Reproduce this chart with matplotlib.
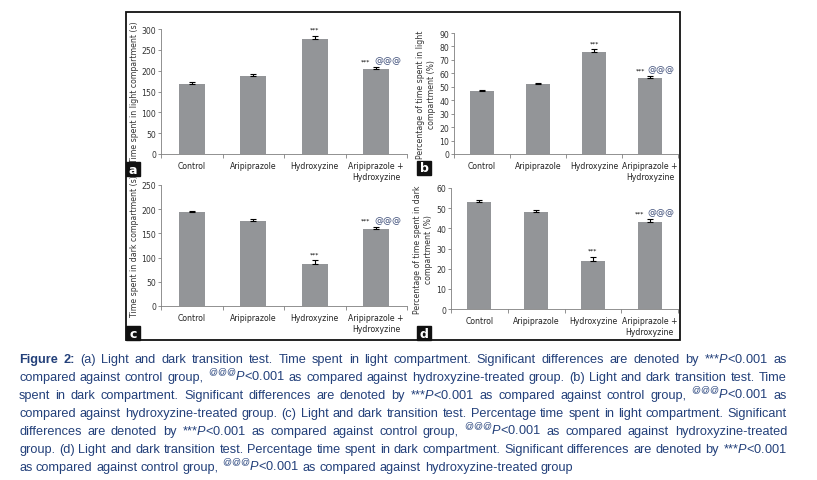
import numpy as np
import matplotlib
matplotlib.use('Agg')
import matplotlib.pyplot as plt
from matplotlib.patches import Rectangle

W, H = 817, 481

groups = ['Control', 'Aripiprazole', 'Hydroxyzine', 'Aripiprazole +\nHydroxyzine']

light_time = [169, 188, 277, 205]
light_time_err = [4, 4, 7, 4]
light_pct = [47, 52, 76, 56.5]
light_pct_err = [0.7, 0.7, 2, 1.5]
dark_time = [194, 176, 87, 160]
dark_time_err = [2, 4, 8, 4]
dark_pct = [53.2, 48.3, 24, 43.3]
dark_pct_err = [1, 1, 2, 1.3]

BAR = '#939598'
AXC = '#7f7f7f'
BLUE = '#23407a'

plt.rcParams['mathtext.fontset'] = 'custom'
plt.rcParams['mathtext.rm'] = 'Liberation Sans'
plt.rcParams['mathtext.it'] = 'Liberation Sans:italic'
plt.rcParams['mathtext.bf'] = 'Liberation Sans:bold'


def px_rect(x0, x1, ytop, ybot):
    return [x0 / W, 1 - ybot / H, (x1 - x0) / W, (ybot - ytop) / H]


fig = plt.figure(figsize=(W / 100, H / 100), dpi=100)


def panel(rect, vals, errs, ymax, step, ylabel, letter, lrect):
    ax = fig.add_axes(rect)
    x = np.arange(len(groups))
    ax.bar(x, vals, width=0.42, color=BAR, zorder=2)
    ax.errorbar(x, vals, yerr=[[0] * len(vals), errs], fmt='none', ecolor='black',
                elinewidth=0.8, capsize=2.2, capthick=0.8, zorder=3)
    ax.set_xlim(-0.5, 3.5)
    ax.set_ylim(0, ymax)
    ax.set_yticks(np.arange(0, ymax + step / 2, step))
    ax.set_xticks(x)
    ax.set_xticklabels(groups, fontsize=5.6, color='#222222', linespacing=1.3)
    ax.set_xticks(np.arange(-0.5, 4, 1), minor=True)
    ax.tick_params(axis='x', which='major', length=0, pad=5)
    ax.tick_params(axis='x', which='minor', length=3, width=0.6, color=AXC, direction='out')
    ax.tick_params(axis='y', length=2.5, width=0.6, color=AXC, labelsize=5.6,
                   labelcolor='#333333', pad=1)
    for s in ['top', 'right']:
        ax.spines[s].set_visible(False)
    for s in ['left', 'bottom']:
        ax.spines[s].set_color(AXC)
        ax.spines[s].set_linewidth(0.6)
    ax.set_ylabel(ylabel, fontsize=5.6, color='#333333', labelpad=2, linespacing=1.3)

    # significance marks
    off = ymax * 0.03
    ax.text(2, vals[2] + errs[2] + off, '***', ha='center', va='bottom', fontsize=4.5)
    ax.text(3 - 0.17, vals[3] + errs[3] + off, '***', ha='center', va='bottom', fontsize=4.5)
    ax.text(3 + 0.19, vals[3] + errs[3] + off * 0.8, '@@@', ha='center', va='bottom',
            fontsize=6.5, color='#3f4f7a')

    # panel letter
    fig.patches.append(Rectangle((lrect[0] / W, 1 - lrect[3] / H),
                                 (lrect[1] - lrect[0]) / W, (lrect[3] - lrect[2]) / H,
                                 color='#111111', transform=fig.transFigure, zorder=5))
    fig.text((lrect[0] + lrect[1]) / 2 / W, 1 - (lrect[2] + lrect[3]) / 2 / H, letter,
             color='white', fontsize=9, fontweight='bold', ha='center', va='center', zorder=6)
    return ax


panel(px_rect(161, 407, 30, 155), light_time, light_time_err, 300, 50,
      'Time spent in light compartment (s)', 'a', (126, 140, 163, 177))
panel(px_rect(454, 678, 34, 155), light_pct, light_pct_err, 90, 10,
      'Percentage of time spent in light\ncompartment (%)', 'b', (417, 431, 162, 176))
panel(px_rect(161, 407, 186, 307), dark_time, dark_time_err, 250, 50,
      'Time spent in dark compartment (s)', 'c', (126, 140, 327, 341))
panel(px_rect(451, 678, 189, 310), dark_pct, dark_pct_err, 60, 10,
      'Percentage of time spent in dark\ncompartment (%)', 'd', (417, 431, 327, 341))

# outer frame
fig.patches.append(Rectangle((126 / W, 1 - 341 / H), (680 - 126) / W, (341 - 13) / H,
                             fill=False, lw=1.3, edgecolor='#111111',
                             transform=fig.transFigure, zorder=4))

# caption ("#" marks a bold word)
ST = r'***$\mathit{P}$<0.001'
AT = r'$^{@@@}\mathit{P}$<0.001'
caption = [
    '#Figure #2: (a) Light and dark transition test. Time spent in light compartment. Significant differences are denoted by ' + ST + ' as',
    'compared against control group, ' + AT + ' as compared against hydroxyzine-treated group. (b) Light and dark transition test. Time',
    'spent in dark compartment. Significant differences are denoted by ' + ST + ' as compared against control group, ' + AT + ' as',
    'compared against hydroxyzine-treated group. (c) Light and dark transition test. Percentage time spent in light compartment. Significant',
    'differences are denoted by ' + ST + ' as compared against control group, ' + AT + ' as compared against hydroxyzine-treated',
    'group. (d) Light and dark transition test. Percentage time spent in dark compartment. Significant differences are denoted by ' + ST,
    'as compared against control group, ' + AT + ' as compared against hydroxyzine-treated group',
]
line_y = [363, 381, 399, 417, 435, 453, 471]  # baselines
x_left, x_right = 19, 787
cap_family = ['Liberation Sans', 'DejaVu Sans']


def word_text(w, size, y=0):
    bold = w.startswith('#')
    return fig.text(0, y, w.lstrip('#'), fontsize=size, color=BLUE, va='baseline', ha='left',
                    family=cap_family, fontweight='bold' if bold else 'normal')


fig.canvas.draw()
renderer = fig.canvas.get_renderer()

# pick a font size so the longest line fits with normal word spacing
s0 = 10.0
probe = fig.text(0, 0, 'a a', fontsize=s0, family=cap_family)
probe2 = fig.text(0, 0, 'aa', fontsize=s0, family=cap_family)
space0 = probe.get_window_extent(renderer).width - probe2.get_window_extent(renderer).width
probe.remove()
probe2.remove()
natural = []
for line in caption:
    ts = [word_text(w, s0) for w in line.split(' ')]
    ws = [t.get_window_extent(renderer).width for t in ts]
    natural.append(sum(ws) + space0 * (len(ws) - 1))
    for t in ts:
        t.remove()
size = s0 * (x_right - x_left) / max(natural) * 0.995
space = space0 * size / s0

for i, (line, y) in enumerate(zip(caption, line_y)):
    words = line.split(' ')
    texts = [word_text(w, size, 1 - y / H) for w in words]
    widths = [t.get_window_extent(renderer).width for t in texts]
    if i < len(caption) - 1:
        gap = (x_right - x_left - sum(widths)) / (len(words) - 1)
    else:
        gap = space
    x = x_left
    for t, wd in zip(texts, widths):
        t.set_x(x / W)
        x += wd + gap

fig.savefig('out.png', dpi=100)
